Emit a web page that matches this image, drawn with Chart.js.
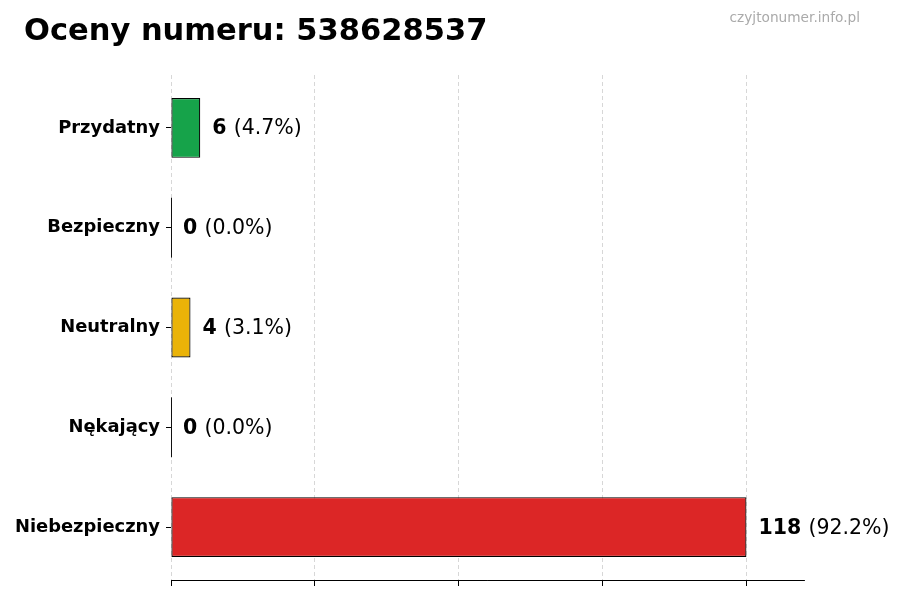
<!DOCTYPE html>
<html>
<head>
<meta charset="utf-8">
<script src="https://cdn.jsdelivr.net/npm/chart.js@4.4.1/dist/chart.umd.min.js"></script>
<style>
  html, body { margin: 0; padding: 0; background: #fff; }
  #wrap { width: 900px; height: 600px; }
</style>
</head>
<body>
<div id="wrap"><canvas id="c" width="900" height="600"></canvas></div>
<script>
// ---- data ----
const titleText = "Oceny numeru: 538628537";
const watermark = "czyjtonumer.info.pl";
const categories = ["Przydatny", "Bezpieczny", "Neutralny", "Nękający", "Niebezpieczny"];
const counts = [6, 0, 4, 0, 118];
const barColors = ["#16a34a", "#2563eb", "#eab308", "#f97316", "#dc2626"];

const total = counts.reduce((a, b) => a + b, 0);
const maxVal = Math.max(...counts);
const FONT = "'DejaVu Sans', sans-serif";

const chromePlugin = {
  id: 'chrome',
  beforeDraw(chart) {
    const ctx = chart.ctx;
    ctx.save();
    ctx.fillStyle = '#fff';
    ctx.fillRect(0, 0, chart.width, chart.height);
    ctx.restore();
  },
  afterDraw(chart) {
    const ctx = chart.ctx;
    ctx.save();
    ctx.fillStyle = '#000';
    ctx.font = "bold 30.5px " + FONT;
    ctx.textAlign = 'left';
    ctx.textBaseline = 'alphabetic';
    ctx.fillText(titleText, 24, 39.5);
    ctx.fillStyle = '#aaaaaa';
    ctx.font = "13.7px " + FONT;
    ctx.textAlign = 'right';
    ctx.fillText(watermark, 860, 22);
    ctx.restore();
  }
};

const barLabelPlugin = {
  id: 'barLabels',
  afterDatasetsDraw(chart) {
    const ctx = chart.ctx;
    const meta = chart.getDatasetMeta(0);
    ctx.save();
    meta.data.forEach((el, i) => {
      const v = counts[i];
      if (v === 0) {
        const h = el.height;
        ctx.strokeStyle = '#111';
        ctx.lineWidth = 1;
        ctx.beginPath();
        ctx.moveTo(el.x + 0.5, el.y - h / 2);
        ctx.lineTo(el.x + 0.5, el.y + h / 2);
        ctx.stroke();
      }
      const pct = (total ? v / total * 100 : 0).toFixed(1);
      let x = el.x + 12;
      const y = el.y + 6.5;
      ctx.fillStyle = '#000';
      ctx.textAlign = 'left';
      ctx.textBaseline = 'alphabetic';
      ctx.font = "bold 20.5px " + FONT;
      const numTxt = String(v);
      ctx.fillText(numTxt, x, y);
      x += ctx.measureText(numTxt + " ").width;
      ctx.font = "20.5px " + FONT;
      ctx.fillText("(" + pct + "%)", x, y);
    });
    ctx.restore();
  }
};

new Chart(document.getElementById('c'), {
  type: 'bar',
  data: {
    labels: categories,
    datasets: [{
      data: counts.map((v, i) => ({ x: v, y: i })),
      backgroundColor: barColors,
      borderColor: '#000',
      borderWidth: 1.2,
      borderSkipped: false,
      barPercentage: 0.6,
      categoryPercentage: 1.0
    }]
  },
  options: {
    indexAxis: 'y',
    responsive: false,
    animation: false,
    devicePixelRatio: 1,
    layout: { padding: { top: 75, right: 96, bottom: 0, left: 0 } },
    plugins: {
      legend: { display: false },
      tooltip: { enabled: false },
      title: { display: false }
    },
    scales: {
      x: {
        type: 'linear',
        min: 0,
        max: maxVal * 1.1,
        z: 1,
        afterBuildTicks(scale) {
          scale.ticks = [0, 1, 2, 3, 4].map(k => ({ value: maxVal * k / 4 }));
        },
        afterFit(scale) { scale.height = 20; },
        ticks: { display: false },
        grid: {
          display: true,
          drawOnChartArea: true,
          drawTicks: true,
          tickLength: 6,
          color: 'rgba(0,0,0,0.2)',
          lineWidth: 0.8,
          tickColor: '#000',
          tickWidth: 1,
          tickBorderDash: []
        },
        border: { display: true, color: '#000', width: 1, dash: [4, 3] }
      },
      y: {
        type: 'linear',
        reverse: true,
        offset: false,
        min: -0.53,
        max: 4.53,
        afterBuildTicks(scale) {
          scale.ticks = categories.map((_, i) => ({ value: i }));
        },
        afterFit(scale) { scale.width = 171; },
        ticks: {
          autoSkip: false,
          padding: 6,
          color: '#000',
          font: { family: FONT, size: 17.9, weight: 'bold' },
          callback: (v) => categories[v]
        },
        grid: {
          display: true,
          offset: false,
          drawOnChartArea: false,
          drawTicks: true,
          tickLength: 5,
          tickColor: '#000',
          tickWidth: 1
        },
        border: { display: false }
      }
    }
  },
  plugins: [chromePlugin, barLabelPlugin]
});
</script>
</body>
</html>
